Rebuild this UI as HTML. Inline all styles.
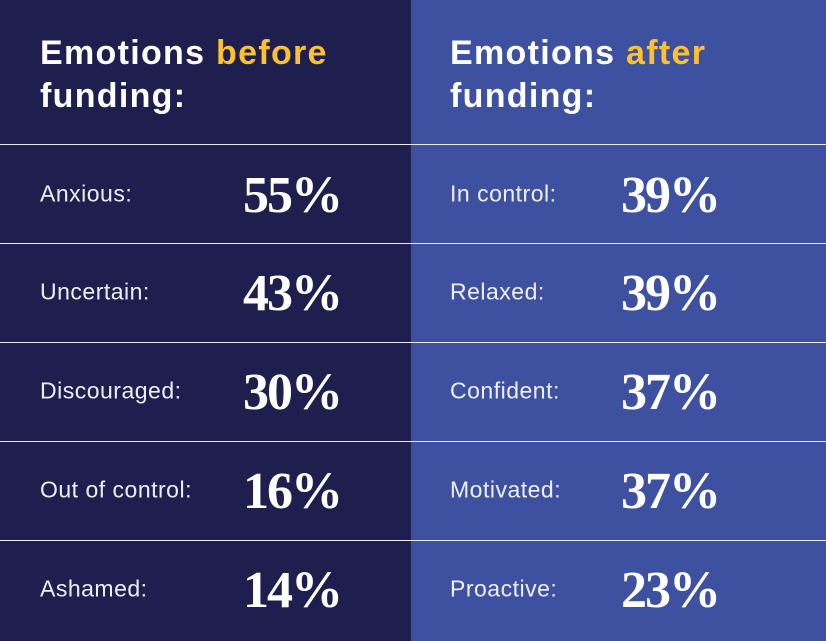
<!DOCTYPE html>
<html><head><style>
body{margin:0;width:826px;height:641px;overflow:hidden;font-family:"Liberation Sans",sans-serif;}
.wrap{position:relative;width:826px;height:641px;background:#1e1f4f;}
.right{position:absolute;left:411px;top:0;width:415px;height:641px;background:#3e51a0;}
.title{position:absolute;top:32px;color:#fff;font-weight:bold;font-size:34px;letter-spacing:1.3px;line-height:43px;}
.y{color:#fbc12f;}
.line{position:absolute;left:0;width:826px;height:1px;background:#e8ecf5;}
.lab{position:absolute;color:#eef0f7;font-size:23px;letter-spacing:0.5px;transform:translateY(-50%);}
.num{position:absolute;color:#fff;font-family:"Liberation Serif",serif;font-weight:bold;font-size:52px;letter-spacing:-2px;transform:translateY(-50%);line-height:1;}
</style></head><body><div class="wrap">
<div class="right"></div>
<div class="title" style="left:40px">Emotions <span class="y">before</span><br>funding:</div>
<div class="title" style="left:450px">Emotions <span class="y">after</span><br>funding:</div>
<div class="line" style="top:144px"></div>
<div class="line" style="top:243px"></div>
<div class="line" style="top:342px"></div>
<div class="line" style="top:441px"></div>
<div class="line" style="top:540px"></div>

<div class="lab" style="left:40px;top:194px">Anxious:</div><div class="num" style="left:243px;top:196px">55%</div>
<div class="lab" style="left:40px;top:292px">Uncertain:</div><div class="num" style="left:243px;top:294px">43%</div>
<div class="lab" style="left:40px;top:391px">Discouraged:</div><div class="num" style="left:243px;top:393px">30%</div>
<div class="lab" style="left:40px;top:490px">Out of control:</div><div class="num" style="left:243px;top:492px">16%</div>
<div class="lab" style="left:40px;top:589px">Ashamed:</div><div class="num" style="left:243px;top:591px">14%</div>

<div class="lab" style="left:450px;top:194px">In control:</div><div class="num" style="left:621px;top:196px">39%</div>
<div class="lab" style="left:450px;top:292px">Relaxed:</div><div class="num" style="left:621px;top:294px">39%</div>
<div class="lab" style="left:450px;top:391px">Confident:</div><div class="num" style="left:621px;top:393px">37%</div>
<div class="lab" style="left:450px;top:490px">Motivated:</div><div class="num" style="left:621px;top:492px">37%</div>
<div class="lab" style="left:450px;top:589px">Proactive:</div><div class="num" style="left:621px;top:591px">23%</div>
</div></body></html>
